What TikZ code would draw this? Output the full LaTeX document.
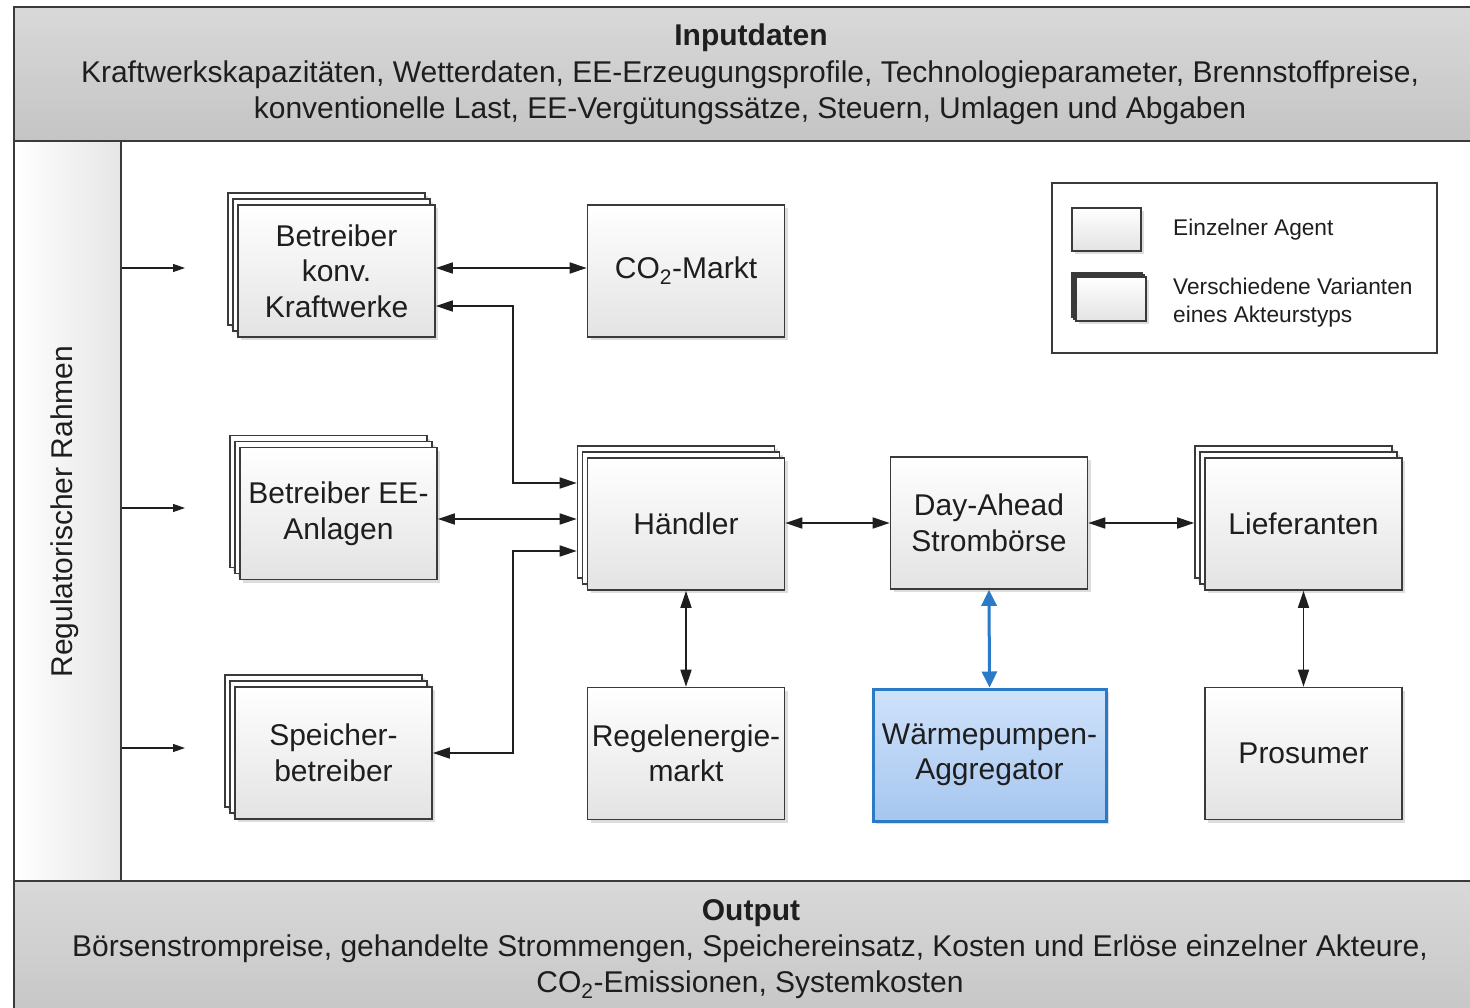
\documentclass[tikz,border=0pt]{standalone}
\usepackage{fontspec}
\setmainfont{Liberation Sans}
\usetikzlibrary{arrows.meta,shadows}

\definecolor{ink}{HTML}{1E1E1E}
\definecolor{edgegray}{HTML}{3A3A3A}
\definecolor{wpblue}{HTML}{2A7AC8}
\definecolor{wptop}{HTML}{CFE2FB}
\definecolor{wpbot}{HTML}{A6C6EF}

\newcommand\agentfont{\fontsize{30}{35.5}\selectfont}
\newcommand\barfont{\fontsize{30}{36}\selectfont}
\newcommand\bartitlefont{\bfseries\fontsize{30}{36}\selectfont}
\newcommand\keyfont{\fontsize{22.7}{28}\selectfont}

% three sheets: two plain back copies and the named front box
\newcommand\agentstack[4]{%
  \node[sheet] (#1-b) at (#2-10,#3-12) {};
  \node[sheet] (#1-m) at (#2-5,#3-6) {};
  \node[agent] (#1) at (#2,#3) {#4};}

\begin{document}
\begin{tikzpicture}[x=1pt,y=-1pt,
  boxshadow/.style={drop shadow={shadow xshift=3pt,shadow yshift=-3pt,opacity=0.22,fill=black!60}},
  agent/.style={draw=edgegray,line width=1.6pt,top color=white,bottom color=black!11,
    minimum width=197pt,minimum height=132pt,inner sep=0pt,align=center,
    text=ink,font=\agentfont,boxshadow},
  sheet/.style={draw=edgegray,line width=1.6pt,fill=white,
    minimum width=197pt,minimum height=132pt,inner sep=0pt,boxshadow},
  bar/.style={draw=edgegray,line width=1.4pt,top color=black!15,bottom color=black!23,
    inner sep=0pt},
  link/.style={draw=black!88,line width=1.6pt,
    {Triangle[length=17pt,width=11pt]}-{Triangle[length=17pt,width=11pt]}},
  feed/.style={draw=black!88,line width=1.2pt,-{Triangle[length=12pt,width=8pt]}},
  bluelink/.style={draw=wpblue,line width=3pt,
    {Triangle[length=16pt,width=15pt]}-{Triangle[length=16pt,width=15pt]}},
  keytext/.style={anchor=west,align=left,text=ink,font=\keyfont,inner sep=0pt}]

\useasboundingbox (0,0) rectangle (1470,1007);
\clip (0,0) rectangle (1470,1007);
\fill[white] (0,0) rectangle (1470,1007);

% ---- input bar ----
\node[bar,minimum width=1472pt,minimum height=134pt] (inputbar) at (750,74) {};
\node[font=\bartitlefont,text=ink] (inputtitle) at (751,38) {Inputdaten};
\node[font=\barfont,text=ink,align=center] (inputtext) at (750,92.5)
  {Kraftwerkskapazitäten, Wetterdaten, EE-Erzeugungsprofile, Technologieparameter, Brennstoffpreise,\\
   konventionelle Last, EE-Vergütungssätze, Steuern, Umlagen und Abgaben};

% ---- output bar ----
\node[bar,minimum width=1472pt,minimum height=150pt] (outputbar) at (750,956) {};
\node[font=\bartitlefont,text=ink] (outputtitle) at (751,913.5) {Output};
\node[font=\barfont,text=ink,align=center] (outputtext) at (750,967)
  {Börsenstrompreise, gehandelte Strommengen, Speichereinsatz, Kosten und Erlöse einzelner Akteure,\\
   CO\textsubscript{2}-Emissionen, Systemkosten};

% ---- regulatory frame column ----
\node[draw=edgegray,line width=1.4pt,left color=white,right color=black!10,
  minimum width=107pt,minimum height=740pt,inner sep=0pt] (rahmen) at (67.5,511) {};
\node[rotate=90,font=\agentfont,text=ink] (rahmentext) at (65,511.5) {Regulatorischer Rahmen};

% ---- agents ----
\agentstack{kw}{336.5}{271}{Betreiber\\konv.\\Kraftwerke}
\agentstack{ee}{338.5}{513.5}{Betreiber EE-\\Anlagen}
\agentstack{sp}{333.5}{753}{Speicher-\\betreiber}
\agentstack{h}{686}{524}{Händler}
\agentstack{lf}{1303.5}{524}{Lieferanten}
\node[agent] (co2) at (686,271) {CO\textsubscript{2}-Markt};
\node[agent] (da) at (989,523) {Day-Ahead\\Strombörse};
\node[agent] (re) at (686,753.5) {Regelenergie-\\markt};
\node[agent,draw=wpblue,line width=3pt,top color=wptop,bottom color=wpbot,
  minimum width=233pt] (wp) at (989.5,755) {Wärmepumpen-\\Aggregator};
\node[agent] (pr) at (1303.5,753.5) {Prosumer};

% ---- legend ----
\node[draw=edgegray,line width=1.4pt,fill=white,minimum width=385pt,minimum height=170pt,
  inner sep=0pt] (legend) at (1244.5,268) {};
\node[agent,minimum width=69pt,minimum height=43pt,line width=1.4pt] (keysingle) at (1106.5,229.5) {};
\node[sheet,minimum width=70pt,minimum height=44pt,line width=1.4pt] (keymulti-b) at (1107,295) {};
\node[sheet,minimum width=70pt,minimum height=44pt,line width=1.4pt] (keymulti-m) at (1109,297) {};
\node[agent,minimum width=70pt,minimum height=44pt,line width=1.4pt] (keymulti) at (1111,299) {};
\node[keytext] (keysingletext) at (1173,230) {Einzelner Agent};
\node[keytext] (keymultitext) at (1173,302.5) {Verschiedene Varianten\\eines Akteurstyps};

% ---- regulatory inputs ----
\coordinate (r1) at (185,268);
\coordinate (r2) at (185,508);
\coordinate (r3) at (185,748);
\draw[feed] (rahmen.east |- r1) -- (r1);
\draw[feed] (rahmen.east |- r2) -- (r2);
\draw[feed] (rahmen.east |- r3) -- (r3);

% ---- connectors ----
\draw[link] (kw.east |- 0,268) -- (co2.west |- 0,268);
\draw[link] (kw.east |- 0,306) -- (513,306) -- (513,483) -- (h-b.west |- 0,483);
\draw[link] (ee.east |- 0,519) -- (h-b.west |- 0,519);
\draw[link] (sp.east |- 0,753) -- (513,753) -- (513,551) -- (h-b.west |- 0,551);
\draw[link] (h.east |- 0,523) -- (da.west |- 0,523);
\draw[link] (da.east |- 0,523) -- (lf-b.west |- 0,523);
\draw[link] (h.south) -- (re.north);
\draw[link] (lf.south) -- (pr.north);
\draw[bluelink] (da.south) -- (wp.north);

\end{tikzpicture}
\end{document}
